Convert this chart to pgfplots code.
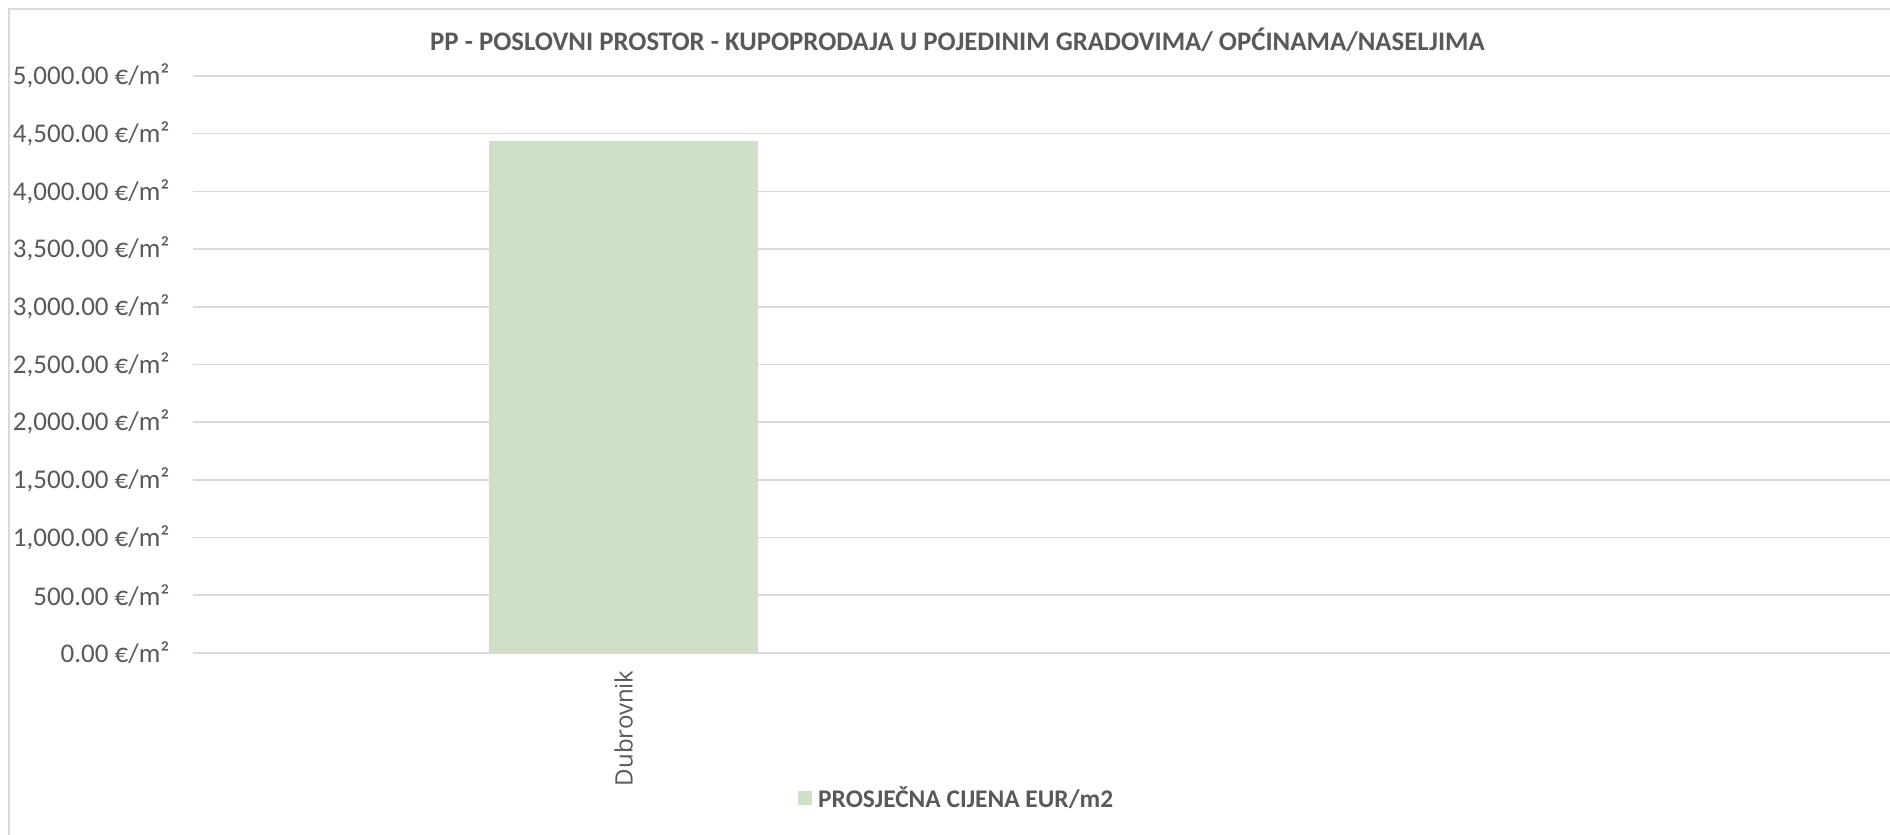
\documentclass[border=0pt]{standalone}
\usepackage{pgfplots}
\pgfplotsset{compat=1.18}
\usepackage{fontspec}
\setmainfont{Carlito}
\newfontfamily\osans{Open Sans}
\definecolor{txt}{HTML}{595959}
\definecolor{gridc}{HTML}{D9D9D9}
\definecolor{barc}{HTML}{D0DFC7}
\begin{document}
\begin{tikzpicture}
\useasboundingbox (0pt,0pt) rectangle (1890pt,835pt);
\fill[white] (0pt,0pt) rectangle (1890pt,835pt);
\draw[gridc, line width=1.5pt] (9pt,-20pt) rectangle (1910pt,826pt);
\begin{axis}[
  at={(193pt,182pt)}, anchor=south west,
  scale only axis, width=1722pt, height=577pt,
  xmin=-0.5, xmax=1.5, ymin=0, ymax=5000,
  ytick={0,500,...,5000},
  yticklabels={{0.00 €/m²},{500.00 €/m²},{1,000.00 €/m²},{1,500.00 €/m²},{2,000.00 €/m²},{2,500.00 €/m²},{3,000.00 €/m²},{3,500.00 €/m²},{4,000.00 €/m²},{4,500.00 €/m²},{5,000.00 €/m²}},
  xtick={0,1}, xticklabels={Dubrovnik,{}},
  /pgf/number format/assume math mode=true,
  axis line style={draw=none},
  major tick length=0pt,
  ymajorgrids, xmajorgrids=false, grid style={draw=gridc, line width=1.6pt},
  yticklabel style={font=\fontsize{27}{32}\selectfont, text=txt, anchor=east, xshift=-20pt},
  xticklabel style={font=\osans\fontsize{24}{28}\selectfont, text=txt, rotate=90, anchor=east, xshift=-14pt},
  title={PP - POSLOVNI PROSTOR - KUPOPRODAJA U POJEDINIM GRADOVIMA/ OPĆINAMA/NASELJIMA},
  title style={at={(0.444,1.052)}, anchor=center, font=\bfseries\fontsize{26.8}{32}\selectfont, text=txt},
  legend style={at={(0.4435,-0.251)}, anchor=center, draw=none, fill=none, font=\bfseries\fontsize{25.4}{30}\selectfont, text=txt, /tikz/column sep=4pt},
  legend image code/.code={\fill[barc] (0pt,-7pt) rectangle (14pt,7pt);},
]
\addplot[ybar, bar width=0.3125, fill=barc, draw=none] coordinates {(0,4440)};
\addlegendentry{PROSJEČNA CIJENA EUR/m2}
\end{axis}
\end{tikzpicture}
\end{document}
